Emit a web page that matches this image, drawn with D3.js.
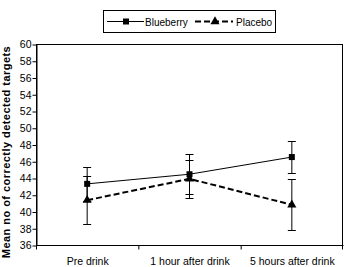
<!DOCTYPE html>
<html>
<head>
<meta charset="utf-8">
<script src="https://cdn.jsdelivr.net/npm/d3@7"></script>
<style>
  body { margin: 0; background: #fff; }
  svg { display: block; font-family: "Liberation Sans", Arial, sans-serif; }
</style>
</head>
<body>
<div id="chart"></div>
<script>
// Data
const categories = ["Pre drink", "1 hour after drink", "5 hours after drink"];
const blueberry = [43.3, 44.45, 46.5];
const blueberryErr = [2.0, 2.4, 1.9];
const placebo = [41.35, 43.9, 40.8];
const placeboErr = [2.9, 2.3, 3.05];
const yTicks = [36, 38, 40, 42, 44, 46, 48, 50, 52, 54, 56, 58, 60];

const width = 344, height = 267;
const margin = { top: 44, right: 1, bottom: 22, left: 36 };

const svg = d3.select("#chart")
  .append("svg")
    .attr("width", width)
    .attr("height", height);

const x = d3.scaleBand()
  .domain(categories)
  .range([margin.left, width - margin.right]);

const y = d3.scaleLinear()
  .domain([36, 60])
  .range([height - margin.bottom, margin.top]);

// plot frame
svg.append("rect")
  .attr("x", margin.left + 0.5)
  .attr("y", margin.top + 0.5)
  .attr("width", width - margin.right - margin.left - 1)
  .attr("height", height - margin.bottom - margin.top)
  .attr("fill", "none")
  .attr("stroke", "#000");

// y axis
const yAxis = svg.append("g")
  .attr("transform", `translate(${margin.left + 0.5},0.5)`)
  .call(d3.axisLeft(y).tickValues(yTicks).tickSize(4).tickSizeOuter(0));
yAxis.select(".domain").attr("stroke", "#000");
yAxis.selectAll("text")
  .attr("x", -5)
  .attr("font-size", "10.5px")
  .attr("font-family", "Liberation Sans, Arial, sans-serif")
  .attr("fill", "#000");

// x axis: ticks on category boundaries
const xAxis = svg.append("g")
  .attr("transform", `translate(0.5,${y(36) + 0.5})`);
xAxis.append("line")
  .attr("x1", margin.left).attr("x2", width - margin.right)
  .attr("stroke", "#000");
const bounds = categories.map(c => x(c)).concat([x.range()[1] - 1]);
xAxis.selectAll(".xt")
  .data(bounds)
  .join("line")
    .attr("class", "xt")
    .attr("x1", d => d).attr("x2", d => d)
    .attr("y1", 0).attr("y2", 4)
    .attr("stroke", "#000");
xAxis.selectAll(".xl")
  .data(categories)
  .join("text")
    .attr("class", "xl")
    .attr("x", d => x(d) + x.bandwidth() / 2)
    .attr("y", 19)
    .attr("text-anchor", "middle")
    .attr("font-size", "10.5px")
    .text(d => d);

// y axis title
svg.append("text")
  .attr("transform", `translate(10,152) rotate(-90)`)
  .attr("text-anchor", "middle")
  .attr("font-size", "11px")
  .attr("font-weight", "bold")
  .attr("letter-spacing", "0.45px")
  .text("Mean no of correctly detected targets");

const cx = c => x(c) + x.bandwidth() / 2;

// error bars
const drawErr = (vals, errs, cls) => {
  const g = svg.append("g").attr("class", cls);
  const rows = categories.map((c, i) => ({ c, v: vals[i], e: errs[i] }));
  g.selectAll("line.v").data(rows).join("line")
    .attr("class", "v")
    .attr("x1", d => cx(d.c)).attr("x2", d => cx(d.c))
    .attr("y1", d => y(d.v + d.e)).attr("y2", d => y(d.v - d.e))
    .attr("stroke", "#000");
  [1, -1].forEach(s => {
    g.selectAll(`line.cap${s}`).data(rows).join("line")
      .attr("class", `cap${s}`)
      .attr("x1", d => cx(d.c) - 4).attr("x2", d => cx(d.c) + 4)
      .attr("y1", d => Math.round(y(d.v + s * d.e)) + 0.5)
      .attr("y2", d => Math.round(y(d.v + s * d.e)) + 0.5)
      .attr("stroke", "#000");
  });
};
drawErr(blueberry, blueberryErr, "err-b");
drawErr(placebo, placeboErr, "err-p");

const line = d3.line().x((d, i) => cx(categories[i])).y(d => y(d));

svg.append("path")
  .datum(placebo)
  .attr("d", line)
  .attr("fill", "none")
  .attr("stroke", "#000")
  .attr("stroke-width", 2)
  .attr("stroke-dasharray", "6,3");

svg.append("path")
  .datum(blueberry)
  .attr("d", line)
  .attr("fill", "none")
  .attr("stroke", "#000")
  .attr("stroke-width", 1);

const square = d3.symbol().type(d3.symbolSquare).size(36);
const triangle = d3.symbol().type(d3.symbolTriangle).size(36);

svg.selectAll(".mb").data(blueberry).join("path")
  .attr("class", "mb")
  .attr("transform", (d, i) => `translate(${cx(categories[i])},${y(d)})`)
  .attr("d", square);
svg.selectAll(".mp").data(placebo).join("path")
  .attr("class", "mp")
  .attr("transform", (d, i) => `translate(${cx(categories[i])},${y(d)})`)
  .attr("d", triangle);

// legend
const legend = svg.append("g");
legend.append("rect")
  .attr("x", 103.5).attr("y", 10.5)
  .attr("width", 172).attr("height", 22)
  .attr("fill", "#fff").attr("stroke", "#000");
legend.append("line")
  .attr("x1", 107).attr("x2", 144).attr("y1", 21.5).attr("y2", 21.5)
  .attr("stroke", "#000");
legend.append("path")
  .attr("transform", "translate(126,21.5)").attr("d", square);
legend.append("text")
  .attr("x", 145).attr("y", 25.5).attr("font-size", "10px").text("Blueberry");
legend.append("line")
  .attr("x1", 195).attr("x2", 233).attr("y1", 21.5).attr("y2", 21.5)
  .attr("stroke", "#000").attr("stroke-width", 2).attr("stroke-dasharray", "6,3");
legend.append("path")
  .attr("transform", "translate(215,21.5)").attr("d", triangle);
legend.append("text")
  .attr("x", 236).attr("y", 25.5).attr("font-size", "10px").text("Placebo");
</script>
</body>
</html>
